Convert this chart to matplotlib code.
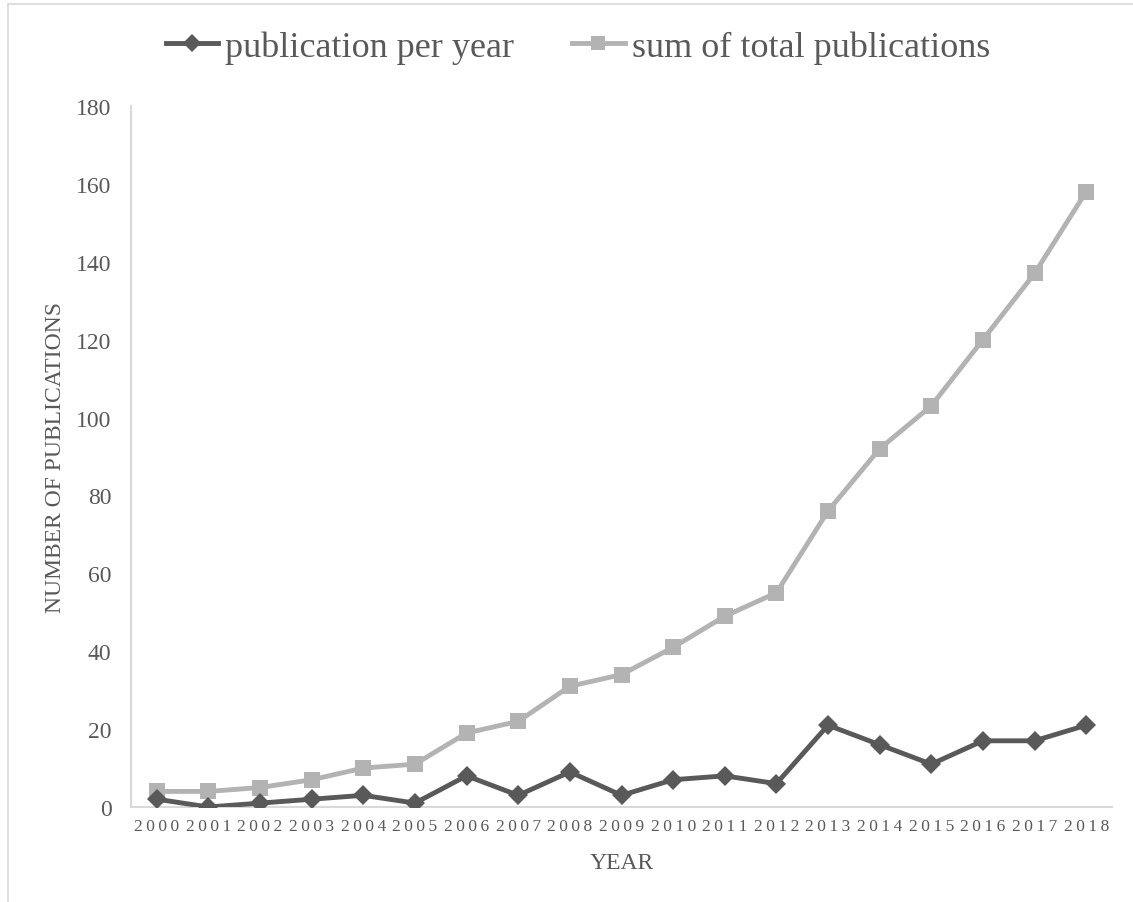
import matplotlib
matplotlib.use("Agg")
import matplotlib.pyplot as plt
from matplotlib.lines import Line2D
from matplotlib.patches import Rectangle
from matplotlib.ticker import FuncFormatter

years = list(range(2000, 2019))
per_year = [2, 0, 1, 2, 3, 1, 8, 3, 9, 3, 7, 8, 6, 21, 16, 11, 17, 17, 21]
cumulative = [4, 4, 5, 7, 10, 11, 19, 22, 31, 34, 41, 49, 55, 76, 92, 103, 120, 137, 158]
series_names = ["publication per year", "sum of total publications"]
y_ticks = [0, 20, 40, 60, 80, 100, 120, 140, 160, 180]

plt.rcParams["font.family"] = ["Liberation Serif", "DejaVu Serif"]

DARK = "#595959"
LIGHT = "#b3b3b3"
TEXT = "#595959"
AXIS = "#d9d9d9"
LW = 3.5

fig = plt.figure(figsize=(11.33, 9.03), dpi=100)
# outer chart-area frame
fig.patches.append(Rectangle((8 / 1133, -0.01), 1.02, 1 - 5 / 903 + 0.01,
                             transform=fig.transFigure, fill=False,
                             edgecolor=AXIS, linewidth=1.2))

ax = fig.add_axes([131 / 1133, 95 / 903, (1112 - 131) / 1133, (808 - 107) / 903])
x = list(range(len(years)))

ax.plot(x, per_year, color=DARK, linewidth=LW, marker="D", markersize=10.5,
        markeredgewidth=0, label=series_names[0], zorder=3)
ax.plot(x, cumulative, color=LIGHT, linewidth=LW, marker="s", markersize=11,
        markeredgewidth=0, label=series_names[1], zorder=2)

ax.set_xlim(-0.5, len(years) - 0.5)
ax.set_ylim(0, 180)
ax.set_yticks(y_ticks)
ax.set_xticks(x)


def year_label(v, pos):
    # spread the digits of each year across its category slot
    i = int(round(v))
    if 0 <= i < len(years):
        return "\u2009".join(str(years[i]))
    return ""


ax.xaxis.set_major_formatter(FuncFormatter(year_label))

for s in ["top", "right"]:
    ax.spines[s].set_visible(False)
for s in ["left", "bottom"]:
    ax.spines[s].set_color(AXIS)
    ax.spines[s].set_linewidth(1.5)

ax.tick_params(axis="both", length=0, colors=TEXT)
ax.tick_params(axis="y", labelsize=17, pad=14)
ax.tick_params(axis="x", labelsize=12.5, pad=8)

ax.set_xlabel("YEAR", fontsize=17, color=TEXT, labelpad=13)
ax.set_ylabel("NUMBER OF PUBLICATIONS", fontsize=17, color=TEXT, labelpad=7)

handles = [
    Line2D([0], [0], color=DARK, linewidth=LW, marker="D", markersize=9, markeredgewidth=0),
    Line2D([0], [0], color=LIGHT, linewidth=LW, marker="s", markersize=10, markeredgewidth=0),
]
fig.legend(handles, series_names, loc="center", bbox_to_anchor=(578 / 1133, 1 - 48 / 903),
           ncol=2, frameon=False, fontsize=26, labelcolor=TEXT,
           handlelength=1.45, handletextpad=0.2, columnspacing=1.6,
           borderpad=0, borderaxespad=0)

fig.savefig("out.png", dpi=100)
